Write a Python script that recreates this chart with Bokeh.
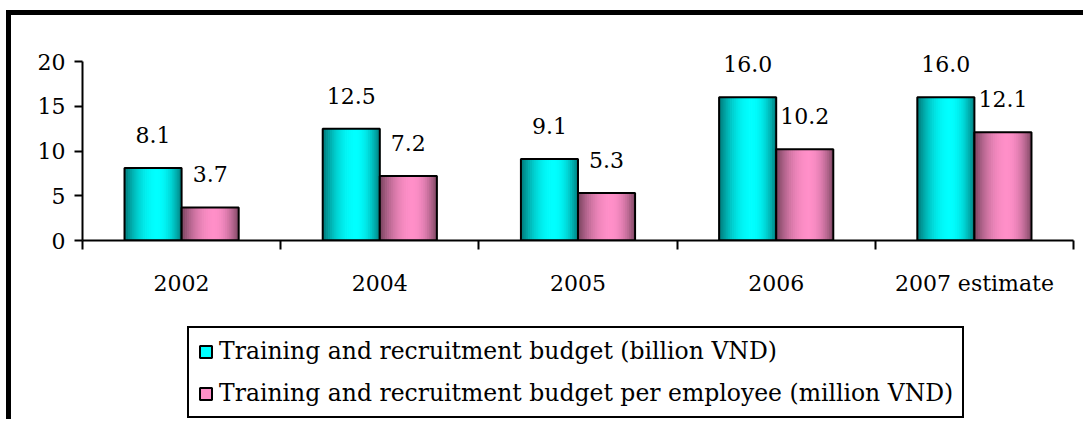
import numpy as np
from bokeh.plotting import figure
from bokeh.layouts import column
from bokeh.models import Range1d, FixedTicker, Legend, LegendItem
from bokeh.embed import file_html
from bokeh.resources import INLINE
from bokeh.core.properties import value

# ---------------- data ----------------
categories = ["2002", "2004", "2005", "2006", "2007 estimate"]
budget_total = [8.1, 12.5, 9.1, 16.0, 16.0]            # billion VND
budget_per_employee = [3.7, 7.2, 5.3, 10.2, 12.1]      # million VND
series_names = [
    "Training and recruitment budget (billion VND)",
    "Training and recruitment budget per employee (million VND)",
]
y_ticks = [0, 5, 10, 15, 20]

# ---------------- style ----------------
FONT = "DejaVu Serif"
FS = "22px"
LEG_FS = "23.5px"
BAR_W = 0.288
N_SLICES = 30
CYAN = (0, 255, 255)
PINK = (255, 143, 200)
W = 1072
FRAME_H = 204                      # frame taller than the axis so value labels are not clipped
Y_TOP = y_ticks[-1] * FRAME_H / 179  # axis 0..20 spans 179 px


def shade(base, t, peak=0.58):
    if t < peak:
        d = (t - peak) / peak
        s = 1 - 0.55 * d * d
    else:
        d = (t - peak) / (1 - peak)
        s = 1 - 0.5 * d * d
    r, g, b = (int(round(c * s)) for c in base)
    return "#%02x%02x%02x" % (r, g, b)


def hexcol(c):
    return "#%02x%02x%02x" % c


p = figure(
    width=W, height=300,
    x_range=Range1d(-0.5, len(categories) - 0.5),
    y_range=Range1d(y_ticks[0], Y_TOP),
    output_backend="svg", toolbar_location=None,
    min_border_left=71, min_border_right=10, min_border_top=21,
    min_border_bottom=300 - 21 - FRAME_H,
)
p.outline_line_color = None
p.xgrid.visible = False
p.ygrid.visible = False
p.background_fill_color = "white"
p.border_fill_color = "white"

for values, base, offset in ((budget_total, CYAN, -BAR_W / 2), (budget_per_employee, PINK, BAR_W / 2)):
    xs, tops, cols = [], [], []
    for i, v in enumerate(values):
        center = i + offset
        for j in range(N_SLICES):
            t = (j + 0.5) / N_SLICES
            xs.append(center - BAR_W / 2 + t * BAR_W)
            tops.append(v)
            cols.append(shade(base, t))
    p.vbar(x=xs, top=tops, bottom=0, width=BAR_W / N_SLICES * 1.4,
           fill_color=cols, line_color=None)
    centers = [i + offset for i in range(len(values))]
    p.vbar(x=centers, top=values, bottom=0, width=BAR_W,
           fill_color=None, line_color="black", line_width=2)
    p.text(x=centers, y=values, text=[f"{v:.1f}" for v in values],
           text_align="center", text_baseline="alphabetic", y_offset=-33,
           text_font=value(FONT), text_font_size=FS, text_color="black")

# x axis: labels at category centres, ticks at category boundaries
p.xaxis.ticker = FixedTicker(
    ticks=list(range(len(categories))),
    minor_ticks=[i - 0.5 for i in range(len(categories) + 1)],
)
p.xaxis.major_label_overrides = {i: c for i, c in enumerate(categories)}
p.xaxis.major_tick_out = 0
p.xaxis.major_tick_in = 0
p.xaxis.minor_tick_out = 9
p.xaxis.minor_tick_in = 0
p.xaxis.minor_tick_line_color = "black"
p.xaxis.minor_tick_line_width = 2
p.xaxis.major_label_standoff = 21

p.yaxis.ticker = FixedTicker(ticks=y_ticks, minor_ticks=[])
p.yaxis.bounds = (y_ticks[0], y_ticks[-1])
p.yaxis.major_tick_out = 8
p.yaxis.major_tick_in = 0
p.yaxis.major_tick_line_width = 2
p.yaxis.major_label_standoff = 9

for ax in (p.xaxis, p.yaxis):
    ax.axis_line_color = "black"
    ax.axis_line_width = 2
    ax.major_label_text_font = FONT
    ax.major_label_text_font_size = FS
    ax.major_label_text_color = "black"

# ---------------- legend panel (separate figure under the chart) ----------------
pl = figure(
    width=W, height=104, x_range=Range1d(0, 1), y_range=Range1d(0, 1),
    output_backend="svg", toolbar_location=None,
    min_border_left=0, min_border_right=0, min_border_top=0, min_border_bottom=0,
    x_axis_type=None, y_axis_type=None,
)
pl.outline_line_color = None
pl.xgrid.visible = False
pl.ygrid.visible = False
pl.background_fill_color = "white"
pl.border_fill_color = "white"
legend_renderers = [
    pl.vbar(x=[float("nan")], top=[vals[0]], width=0.1, fill_color=hexcol(c),
            line_color="black", line_width=2)
    for c, vals in ((CYAN, budget_total), (PINK, budget_per_employee))
]
legend = Legend(
    items=[LegendItem(label=n, renderers=[r]) for n, r in zip(series_names, legend_renderers)],
    location=(105, 1), orientation="vertical",
    glyph_width=15, glyph_height=15, label_standoff=6,
    label_text_font=FONT, label_text_font_size=LEG_FS, label_text_color="black",
    border_line_color="black", border_line_width=2, border_line_alpha=1,
    padding=9, spacing=14, margin=0,
    background_fill_color="white", background_fill_alpha=1,
)
pl.add_layout(legend)

layout = column(p, pl, spacing=0)
layout.styles = {
    "border-left": "5px solid black",
    "border-top": "5px solid black",
    "margin-left": "6px",
    "margin-top": "10px",
}

open("out.html", "w").write(file_html(layout, INLINE))
